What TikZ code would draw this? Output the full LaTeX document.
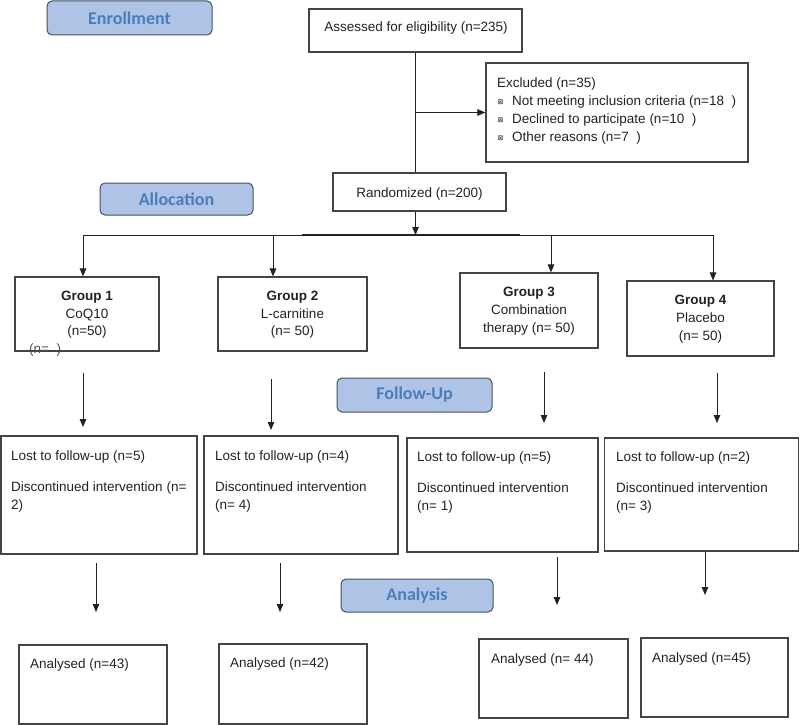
\documentclass[tikz,border=0pt]{standalone}
\usepackage{fontspec}
\setmainfont{Liberation Sans}
\newfontfamily\lblfont{Carlito}
\newfontfamily\symfont{DejaVu Sans}
\usetikzlibrary{arrows.meta}
\definecolor{lblfill}{HTML}{AEC3E6}
\definecolor{lbldraw}{HTML}{45525F}
\definecolor{lbltext}{HTML}{4A7EBB}
\definecolor{boxdraw}{HTML}{444444}
\definecolor{ink}{HTML}{222222}
\begin{document}
\begin{tikzpicture}[x=1pt,y=-1pt,
  box/.style={draw=boxdraw, line width=1.1pt, inner sep=0pt, rectangle},
  lbl/.style={draw=lbldraw, fill=lblfill, line width=1pt, rounded corners=5pt, inner sep=0pt,
    font=\lblfont\bfseries\fontsize{18}{20}\selectfont, text=lbltext},
  txt/.style={inner sep=0pt, font=\fontsize{13.5}{16}\selectfont, text=ink},
  btxt/.style={txt, font=\bfseries\fontsize{13.5}{16}\selectfont},
  bul/.style={inner sep=0pt, font=\symfont\fontsize{7}{8}\selectfont, text=ink},
  arr/.style={draw=ink, line width=1pt, -{Triangle[length=8pt,width=6.5pt]}},
  ln/.style={draw=ink, line width=1pt}]
\useasboundingbox (0,0) rectangle (800,725);

% stage labels
\node[lbl, minimum width=165pt, minimum height=34pt] (enrol) at (129.5,18) {Enrollment};
\node[lbl, minimum width=153pt, minimum height=32pt] (alloc) at (176.5,199) {Allocation};
\node[lbl, minimum width=155pt, minimum height=34pt] (follow) at (414.5,395) {Follow-Up};
\node[lbl, minimum width=152pt, minimum height=33pt] (analys) at (417,595.5) {Analysis};

% boxes
\node[box, minimum width=213pt, minimum height=43pt] (assess) at (415.5,30.5) {};
\node[box, minimum width=262pt, minimum height=99pt] (excl) at (617,112.5) {};
\node[box, minimum width=173pt, minimum height=38pt] (rand) at (419.5,192) {};
\node[box, minimum width=144pt, minimum height=74pt] (g1) at (87,314) {};
\node[box, minimum width=149pt, minimum height=74pt] (g2) at (292.5,314) {};
\node[box, minimum width=138pt, minimum height=75pt] (g3) at (529,310.5) {};
\node[box, minimum width=147pt, minimum height=75pt] (g4) at (700.5,318.5) {};
\node[box, minimum width=196pt, minimum height=118pt] (f1) at (99,495) {};
\node[box, minimum width=194pt, minimum height=118pt] (f2) at (301,495) {};
\node[box, minimum width=191pt, minimum height=114pt] (f3) at (502.5,495) {};
\node[box, minimum width=194pt, minimum height=113pt] (f4) at (701.5,494.5) {};
\node[box, minimum width=148pt, minimum height=79pt] (a1) at (93,684.5) {};
\node[box, minimum width=148pt, minimum height=80pt] (a2) at (293,684) {};
\node[box, minimum width=149pt, minimum height=79pt] (a3) at (553.5,678.5) {};
\node[box, minimum width=147pt, minimum height=79pt] (a4) at (714.5,677.5) {};

% texts
\node[txt, anchor=base] (assesst) at (416,32) {Assessed for eligibility (n=235)};
\node[txt, anchor=base west] (exclt) at (497,87) {Excluded (n=35)};
\node[bul, anchor=base west] (b1) at (497.5,104.5) {⊠};
\node[bul, anchor=base west] (b2) at (497.5,122.5) {⊠};
\node[bul, anchor=base west] (b3) at (497.5,140.5) {⊠};
\node[txt, anchor=base west] (e1) at (512,105) {Not meeting inclusion criteria (n=18\ \ )};
\node[txt, anchor=base west] (e2) at (512,123) {Declined to participate (n=10\ \ )};
\node[txt, anchor=base west] (e3) at (512,141) {Other reasons (n=7\ \ )};
\node[txt, anchor=base] (randt) at (419.5,197) {Randomized (n=200)};

\node[btxt, anchor=base] (g1a) at (87,300) {Group 1};
\node[txt, anchor=base] (g1b) at (87,318) {CoQ10};
\node[txt, anchor=base] (g1c) at (87,335) {(n=50)};
\node[txt, anchor=base west, text=ink!80] (g1d) at (29,353) {(n=\ \ )};
\node[btxt, anchor=base] (g2a) at (292.5,300) {Group 2};
\node[txt, anchor=base] (g2b) at (292.5,318) {L-carnitine};
\node[txt, anchor=base] (g2c) at (292.5,335) {(n= 50)};
\node[btxt, anchor=base] (g3a) at (529,296) {Group 3};
\node[txt, anchor=base] (g3b) at (529,314) {Combination};
\node[txt, anchor=base] (g3c) at (529,332) {therapy (n= 50)};
\node[btxt, anchor=base] (g4a) at (700.5,304) {Group 4};
\node[txt, anchor=base] (g4b) at (700.5,322) {Placebo};
\node[txt, anchor=base] (g4c) at (700.5,340) {(n= 50)};

\node[txt, anchor=base west] (f1a) at (11,460) {Lost to follow-up (n=5)};
\node[txt, anchor=base west] (f1b) at (11,491) {Discontinued intervention (n=};
\node[txt, anchor=base west] (f1c) at (11,509) {2)};
\node[txt, anchor=base west] (f2a) at (215,460) {Lost to follow-up (n=4)};
\node[txt, anchor=base west] (f2b) at (215,491) {Discontinued intervention};
\node[txt, anchor=base west] (f2c) at (215,509) {(n= 4)};
\node[txt, anchor=base west] (f3a) at (417,461) {Lost to follow-up (n=5)};
\node[txt, anchor=base west] (f3b) at (417,492) {Discontinued intervention};
\node[txt, anchor=base west] (f3c) at (417,510) {(n= 1)};
\node[txt, anchor=base west] (f4a) at (616,461) {Lost to follow-up (n=2)};
\node[txt, anchor=base west] (f4b) at (616,492) {Discontinued intervention};
\node[txt, anchor=base west] (f4c) at (616,510) {(n= 3)};

\node[txt, anchor=base west] (a1t) at (30,668) {Analysed (n=43)};
\node[txt, anchor=base west] (a2t) at (230,667) {Analysed (n=42)};
\node[txt, anchor=base west] (a3t) at (491,663) {Analysed (n= 44)};
\node[txt, anchor=base west] (a4t) at (652,662) {Analysed (n=45)};

% coordinates
\coordinate (hub) at (415.5,235);
\coordinate (hl) at (83,235);
\coordinate (hr) at (713,235);
\coordinate (h2) at (273,235);
\coordinate (h3) at (551,235);
\coordinate (thl) at (302,235);
\coordinate (thr) at (520,235);
\coordinate (s1) at (83,373);  \coordinate (t1) at (83,427);
\coordinate (s2) at (271,379); \coordinate (t2) at (271,430);
\coordinate (s3) at (544,372); \coordinate (t3) at (544,423);
\coordinate (s4) at (717,373); \coordinate (t4) at (717,423);
\coordinate (u1) at (96,563);  \coordinate (v1) at (96,612);
\coordinate (u2) at (280,563); \coordinate (v2) at (280,612);
\coordinate (u3) at (557,557); \coordinate (v3) at (557,605);
\coordinate (v4) at (705,595);

% connectors
\draw[ln] (assess.south) -- (assess.south |- rand.north);
\draw[arr] (assess.south |- excl.west) -- (excl.west);
\draw[arr] (assess.south |- rand.south) -- (hub);
\draw[ln] (hl) -- (hr);
\draw[draw=ink, line width=1.8pt] (thl) -- (thr);
\draw[arr] (hl) -- (hl |- g1.north);
\draw[arr] (h2) -- (h2 |- g2.north);
\draw[arr] (h3) -- (h3 |- g3.north);
\draw[arr] (hr) -- (hr |- g4.north);
\draw[arr] (s1) -- (t1);
\draw[arr] (s2) -- (t2);
\draw[arr] (s3) -- (t3);
\draw[arr] (s4) -- (t4);
\draw[arr] (u1) -- (v1);
\draw[arr] (u2) -- (v2);
\draw[arr] (u3) -- (v3);
\draw[arr] (v4 |- f4.south) -- (v4);
\end{tikzpicture}
\end{document}
